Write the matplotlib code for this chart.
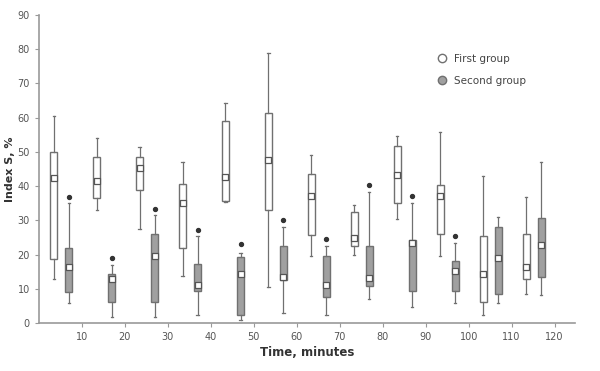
import matplotlib.pyplot as plt
from matplotlib.lines import Line2D

# time points and box stats
times = [5, 15, 25, 35, 45, 55, 65, 75, 85, 95, 105, 115]

g1_whislo = [12.9, 33.0, 27.5, 13.8, 35.5, 10.5, 19.5, 20.0, 30.4, 19.7, 2.4, 8.5]
g1_q1 = [18.7, 36.5, 39.0, 21.9, 35.7, 32.9, 25.8, 22.4, 35.2, 26.0, 6.3, 12.9]
g1_med = [42.4, 41.5, 45.3, 35.2, 42.8, 47.5, 37.2, 24.8, 43.3, 37.2, 14.3, 16.5]
g1_q3 = [50.0, 48.5, 48.5, 40.7, 58.9, 61.3, 43.6, 32.4, 51.6, 40.2, 25.3, 26.0]
g1_whishi = [60.4, 54.0, 51.3, 47.0, 64.3, 79.0, 49.2, 34.6, 54.7, 55.8, 43.0, 36.7]

g2_whislo = [5.8, 1.8, 1.8, 2.4, 1.0, 3.1, 2.4, 7.1, 4.7, 5.8, 5.8, 8.1]
g2_q1 = [9.0, 6.3, 6.1, 9.5, 2.4, 12.7, 7.5, 10.9, 9.4, 9.3, 8.6, 13.6]
g2_med = [16.5, 13.0, 19.5, 11.0, 14.3, 13.6, 11.0, 13.3, 23.4, 15.3, 19.0, 22.7]
g2_q3 = [22.0, 14.4, 26.0, 17.3, 19.2, 22.6, 19.7, 22.6, 24.3, 18.0, 28.0, 30.7]
g2_whishi = [35.0, 17.0, 31.6, 25.3, 20.4, 28.0, 22.6, 38.3, 35.2, 23.4, 31.0, 47.0]

# significance marks (None = no mark)
stars = [36.8, 19.0, 33.4, 27.3, 23.0, 30.2, 24.5, 40.2, 37.2, 25.5, None, None]

fig, ax = plt.subplots(figsize=(6, 3.71), dpi=100)
fig.subplots_adjust(left=0.065, right=0.958, bottom=0.129, top=0.96)

def make_stats(lo, q1, med, q3, hi):
    return [dict(whislo=a, q1=b, med=c, q3=d, whishi=e, fliers=[])
            for a, b, c, d, e in zip(lo, q1, med, q3, hi)]

pos1 = [t - 1.6 for t in times]
pos2 = [t + 1.9 for t in times]
edge = '#707070'

for stats, pos, fc in [(make_stats(g1_whislo, g1_q1, g1_med, g1_q3, g1_whishi), pos1, 'white'),
                       (make_stats(g2_whislo, g2_q1, g2_med, g2_q3, g2_whishi), pos2, '#a0a0a0')]:
    ax.bxp(stats, positions=pos, widths=1.6, patch_artist=True, manage_ticks=False,
           boxprops=dict(facecolor=fc, edgecolor=edge, linewidth=1.0),
           whiskerprops=dict(color=edge, linewidth=0.9),
           capprops=dict(color=edge, linewidth=0.9),
           medianprops=dict(linewidth=0), capwidths=0.5)
    meds = [s['med'] for s in stats]
    ax.scatter(pos, meds, marker='s', s=14, facecolor='white', edgecolor='#555555',
               linewidth=0.9, zorder=5)

sx = [p for p, s in zip(pos2, stars) if s is not None]
sy = [s for s in stars if s is not None]
ax.scatter(sx, sy, marker='o', s=8, color='#333333', zorder=5)

ax.set_xlim(0, 124.7)
ax.set_ylim(0, 90)
ax.set_xticks(range(10, 121, 10))
ax.set_yticks(range(0, 91, 10))
for s in ['top', 'right']:
    ax.spines[s].set_visible(False)
for s in ['left', 'bottom']:
    ax.spines[s].set_color('#999999')
    ax.spines[s].set_linewidth(1.2)
ax.tick_params(colors='#999999', labelcolor='#555555', labelsize=7, length=3)
ax.set_xlabel('Time, minutes', fontsize=8.5, fontweight='bold', color='#333333', labelpad=3)
ax.set_ylabel('Index S, %', fontsize=8, fontweight='bold', color='#333333', labelpad=2)

handles = [Line2D([], [], marker='o', ls='', markersize=6, markerfacecolor='white',
                  markeredgecolor=edge),
           Line2D([], [], marker='o', ls='', markersize=6, markerfacecolor='#a0a0a0',
                  markeredgecolor=edge)]
ax.legend(handles, ['First group', 'Second group'], loc='upper left',
          bbox_to_anchor=(0.715, 0.905), frameon=False, fontsize=7.5,
          handletextpad=0.2, labelspacing=1.2, labelcolor='#444444')

fig.savefig('out.png')
